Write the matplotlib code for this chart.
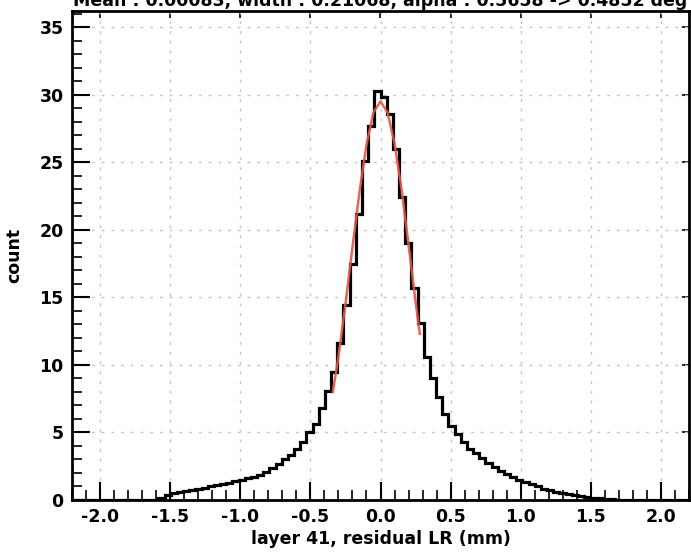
import numpy as np
import matplotlib
matplotlib.use("Agg")
import matplotlib.pyplot as plt
from matplotlib.ticker import MultipleLocator

# ---- data ----
x_min, x_max, n_bins = -2.2, 2.2, 100
counts = [
    0, 0, 0, 0, 0, 0, 0, 0, 0, 0,
    0, 0, 0, 0, 0.15, 0.35, 0.5, 0.58, 0.65, 0.75,
    0.82, 0.92, 1.02, 1.1, 1.2, 1.28, 1.38, 1.48, 1.6, 1.72,
    1.85, 2.05, 2.35, 2.65, 3.05, 3.35, 3.75, 4.3, 5.0, 5.6,
    6.8, 8.1, 9.5, 11.6, 14.4, 17.5, 21.2, 25.1, 27.7, 30.3,
    29.8, 28.6, 26.0, 22.4, 19.0, 15.7, 13.1, 10.6, 9.0, 7.6,
    6.4, 5.5, 4.9, 4.3, 3.8, 3.45, 3.1, 2.75, 2.45, 2.15,
    1.9, 1.7, 1.5, 1.3, 1.15, 1.0, 0.85, 0.72, 0.6, 0.5,
    0.45, 0.38, 0.3, 0.24, 0.18, 0.12, 0.08, 0.05, 0.03, 0,
    0, 0, 0, 0, 0, 0, 0, 0, 0, 0,
]
fit_x = [-0.34, -0.30, -0.25, -0.20, -0.15, -0.10, -0.05, 0.0,
         0.05, 0.10, 0.15, 0.20, 0.25, 0.28]
fit_y = [8.0, 10.6, 14.5, 18.7, 22.8, 26.3, 28.7, 29.5,
         28.7, 26.4, 23.0, 18.9, 14.7, 12.3]
title = "Mean : 0.00083, width : 0.21068, alpha : 0.5658 -> 0.4852 deg"
xlabel = "layer 41, residual LR (mm)"
ylabel = "count"
x_ticks = [-2.0, -1.5, -1.0, -0.5, 0.0, 0.5, 1.0, 1.5, 2.0]
y_ticks = [0, 5, 10, 15, 20, 25, 30, 35]

plt.rcParams['font.family'] = ['DejaVu Sans']
plt.rcParams['font.weight'] = 'bold'
FS = 12.5

fig = plt.figure(figsize=(6.91, 5.54), dpi=100)
W, H = 691, 554
L, R, T, B = 72, 689, 11, 500
ax = fig.add_axes([L / W, (H - B) / H, (R - L) / W, (B - T) / H])

edges = np.linspace(x_min, x_max, n_bins + 1)
ax.stairs(counts, edges, color='black', lw=2.3, baseline=None, zorder=3)
ax.plot(fit_x, fit_y, color='#e0564b', lw=1.8, alpha=0.9, zorder=4)

ax.set_xlim(x_min, x_max)
ax.set_ylim(0, 36.2)
ax.set_xticks(x_ticks)
ax.set_xticklabels([f"{v:.1f}" for v in x_ticks])
ax.set_yticks(y_ticks)
ax.xaxis.set_minor_locator(MultipleLocator(0.1))
ax.yaxis.set_minor_locator(MultipleLocator(1))
ax.tick_params(which='major', direction='in', length=13, width=1.5,
               labelsize=FS, pad=6)
ax.tick_params(which='minor', direction='in', length=7, width=1.2)
for lab in ax.get_xticklabels() + ax.get_yticklabels():
    lab.set_fontweight('bold')

# top / right short ticks
sx = ax.secondary_xaxis('top')
sx.set_xticks(x_ticks)
sx.tick_params(direction='in', length=5, width=1.2, labeltop=False)
sy = ax.secondary_yaxis('right')
sy.set_yticks(y_ticks)
sy.tick_params(direction='in', length=5, width=1.2, labelright=False)
for a in (sx, sy):
    for s in a.spines.values():
        s.set_visible(False)

for s in ax.spines.values():
    s.set_linewidth(2.0)

ax.grid(True, which='major', color='#c4c4c4', linestyle=(0, (2, 5)), lw=1.0)
ax.set_axisbelow(True)

ax.set_xlabel(xlabel, fontsize=FS, fontweight='bold', labelpad=3)
ax.set_ylabel(ylabel, fontsize=FS, fontweight='bold', labelpad=12)

fig.text(380 / W, 1 - 6 / H, title, ha='center', va='baseline',
         fontsize=FS, fontweight='bold')

fig.savefig("out.png", dpi=100)
